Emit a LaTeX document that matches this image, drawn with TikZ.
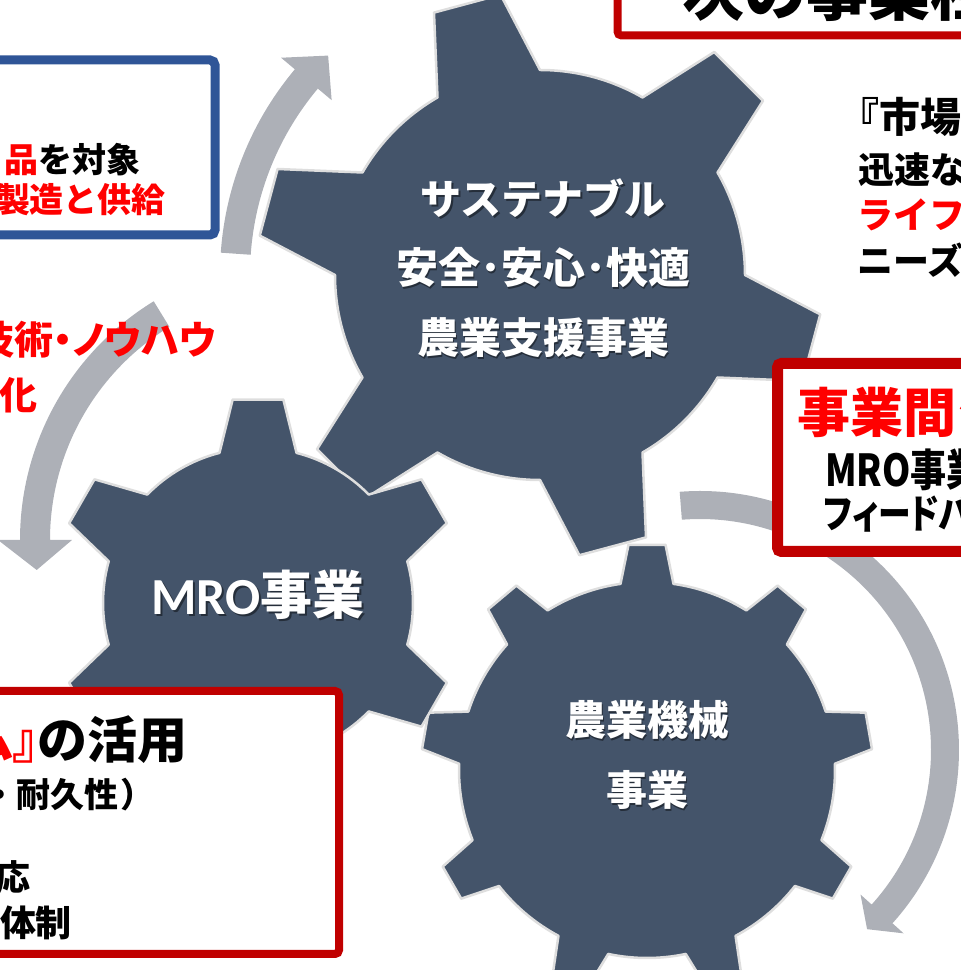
\documentclass[tikz,border=0pt]{standalone}
\usepackage{fontspec}
\setmainfont{Noto Sans CJK JP}
\newfontfamily\carl{Carlito}
\newfontfamily\jpblk{Noto Sans CJK JP Black}
\newfontfamily\jpp[RawFeature=+palt]{Noto Sans CJK JP Black}
\newfontfamily\jpn[FakeStretch=0.82,RawFeature=+palt]{Noto Sans CJK JP Black}
\usetikzlibrary{calc}
\definecolor{gearfill}{HTML}{44546A}
\definecolor{gearedge}{HTML}{DEDEDE}
\definecolor{arrowgray}{HTML}{ADB0B7}
\definecolor{boxred}{HTML}{C00000}
\definecolor{boxblue}{HTML}{2F5597}
\definecolor{txtred}{HTML}{FF0000}
\newcommand\fs[1]{\fontsize{#1}{#1}\selectfont}
% cx cy n rroot rtip offset basehalf tiphalf
\newcommand\mygear[8]{%
  \begin{scope}[shift={(#1,#2)}]
  \filldraw[fill=gearfill, draw=gearedge, line width=2.5pt, line join=round]
   ({#6-#7}:#4)
   \foreach \k [evaluate=\k as \ang using #6+(\k-1)*360/#3] in {1,...,#3} {
     -- ({\ang-#8}:#5) -- ({\ang+#8}:#5) -- ({\ang+#7}:#4)
     arc[start angle={\ang+#7}, end angle={\ang+360/#3-#7}, radius=#4]
   } -- cycle;
  \end{scope}}
% cx cy r w a1 a2 a3 h
\newcommand\cirarrow[8]{%
  \begin{scope}[shift={(#1,#2)}]
  \fill[arrowgray] (#5:{#3+#4}) arc[start angle=#5, end angle=#6, radius={#3+#4}]
    -- (#6:{#3+#8}) -- (#7:#3) -- (#6:{#3-#8}) -- (#6:{#3-#4})
    arc[start angle=#6, end angle=#5, radius={#3-#4}] -- cycle;
  \end{scope}}
\tikzset{
  txt/.style={inner sep=0pt, outer sep=0pt},
  redbox/.style={draw=boxred, line width=8pt, fill=white, rounded corners=4pt},
  bluebox/.style={draw=boxblue, line width=9pt, fill=white, rounded corners=5pt},
  gtxt/.style={inner sep=0pt, text=white},
  gsh/.style={inner sep=0pt, text=black, opacity=0.45},
}
\begin{document}
\begin{tikzpicture}[x=1pt,y=1pt]
\useasboundingbox (0,0) rectangle (961,970);
\begin{scope}
\clip (0,0) rectangle (961,970);
% arrows
\cirarrow{540}{695}{305}{15}{176}{140}{134}{33}
\cirarrow{300}{430}{265}{15}{121.5}{180}{186.5}{37}
\cirarrow{700}{220}{245}{14}{94.5}{-42}{-47}{29}
% gears
\mygear{540}{695}{6}{205}{283}{105}{15}{7}
\mygear{647}{200}{9}{188}{226}{90}{8.1}{4.7}
\mygear{258}{367}{6}{155}{205}{30}{14.4}{7.1}
% gear texts
\foreach \dx/\dy/\sty in {1.8/-1.8/gsh, 0/0/gtxt} {
  \node[\sty, font=\bfseries\fs{41}] (ga\sty) at (543+\dx,772+\dy) {サステナブル};
  \node[\sty, font=\bfseries\fs{42}] (gb\sty) at (543+\dx,702+\dy) {安全･安心･快適};
  \node[\sty, font=\bfseries\fs{42}] (gc\sty) at (543+\dx,632+\dy) {農業支援事業};
  \node[\sty, font=\bfseries\fs{52}] (gd\sty) at (258+\dx,375+\dy) {{\carl MRO}事業};
  \node[\sty, font=\bfseries\fs{41}] (ge\sty) at (647+\dx,250+\dy) {農業機械};
  \node[\sty, font=\bfseries\fs{41}] (gf\sty) at (647+\dx,180+\dy) {事業};
}
% blue box top left
\draw[bluebox] (-20,910) rectangle (215,735);
\node[txt, anchor=east, font=\jpblk\fs{34}] (b1) at (141,810) {\textcolor{txtred}{品}を対象};
\node[txt, anchor=east, text=txtred, font=\jpblk\fs{34}] (b2) at (166,770) {製造と供給};
% top red box
\draw[redbox] (617.5,934.5) rectangle (1000,1010);
\node[txt, anchor=base west, font=\jpblk\fs{62}] (t1) at (682,954) {次の事業柱};
% right text
\node[txt, anchor=west, font=\jpblk\fs{41}] (r1) at (838,853) {『市場};
\node[txt, anchor=west, font=\jpblk\fs{36}] (r2) at (858,800) {迅速な};
\node[txt, anchor=west, text=txtred, font=\jpblk\fs{36}] (r3) at (857,755) {ライフサイクル};
\node[txt, anchor=west, font=\jpblk\fs{36}] (r4) at (857,710) {ニーズに};
% right red box
\draw[redbox, line width=11pt] (777.5,418.5) rectangle (1000,606.5);
\node[txt, anchor=west, text=txtred, font=\jpblk\fs{53}] (m1) at (797,558) {事業間シナジー};
\node[txt, anchor=west, font=\jpn\fs{44}] (m2) at (825,500) {MRO事業};
\node[txt, anchor=west, font=\jpn\fs{40}] (m3) at (824,457) {フィードバック};
% left red text
\node[txt, anchor=east, text=txtred, font=\jpp\fs{39}] (l1) at (216,630) {技術・ノウハウ};
\node[txt, anchor=east, text=txtred, font=\jpblk\fs{38}] (l2) at (37,575) {化};
% bottom left red box
\draw[redbox] (-20,16) rectangle (339,279);
\node[txt, anchor=east, font=\jpblk\fs{50}] (k1) at (188,230) {{\jpp\textcolor{txtred}{ム』}}の活用};
\node[txt, anchor=east, font=\jpblk\fs{34}] (k2) at (119,175) {・耐久性};
\node[txt, anchor=west, font=\jpp\fs{34}] (k2b) at (122,175) {）};
\node[txt, anchor=east, font=\jpblk\fs{35}] (k3) at (31,93) {対応};
\node[txt, anchor=east, font=\jpblk\fs{36}] (k4) at (72,47) {体制};
\end{scope}
\end{tikzpicture}
\end{document}
